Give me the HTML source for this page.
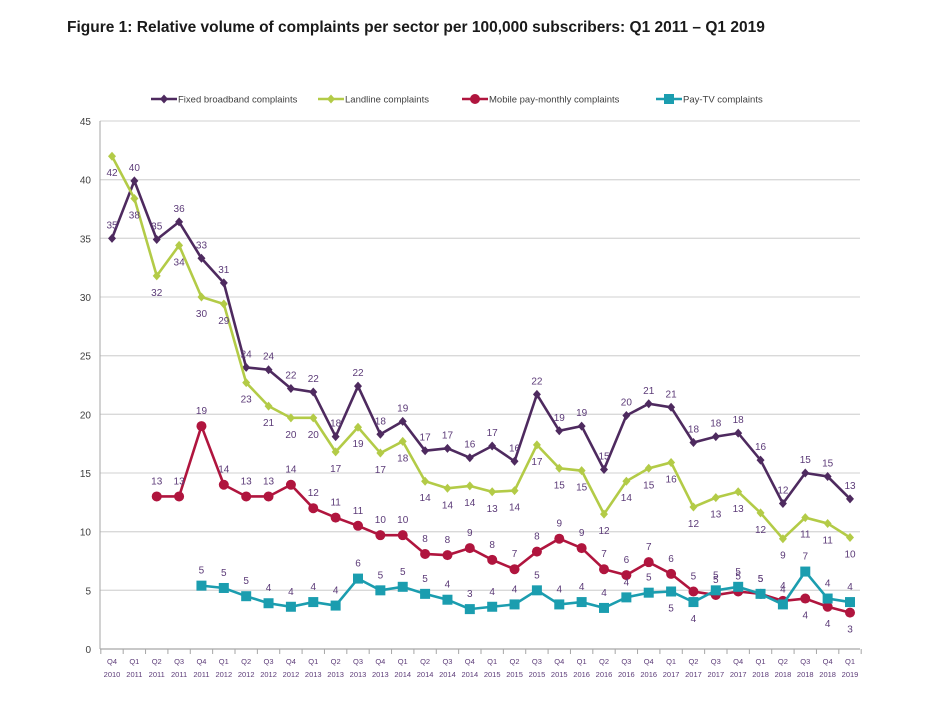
<!DOCTYPE html>
<html><head><meta charset="utf-8">
<style>
body{margin:0;background:#fff;width:934px;height:713px;overflow:hidden;font-family:"Liberation Sans",sans-serif;}
#title{position:absolute;left:67px;top:19px;font-size:15.5px;font-weight:bold;color:#1a1a1a;}
svg{position:absolute;left:0;top:0;}
</style></head>
<body>
<div id="title">Figure 1: Relative volume of complaints per sector per 100,000 subscribers: Q1 2011 – Q1 2019</div>
<svg id="chart" width="934" height="713"></svg>
<script>
const quarters=["Q4","Q1","Q2","Q3","Q4","Q1","Q2","Q3","Q4","Q1","Q2","Q3","Q4","Q1","Q2","Q3","Q4","Q1","Q2","Q3","Q4","Q1","Q2","Q3","Q4","Q1","Q2","Q3","Q4","Q1","Q2","Q3","Q4","Q1"];
const years=["2010","2011","2011","2011","2011","2012","2012","2012","2012","2013","2013","2013","2013","2014","2014","2014","2014","2015","2015","2015","2015","2016","2016","2016","2016","2017","2017","2017","2017","2018","2018","2018","2018","2019"];
const yTicks=[0,5,10,15,20,25,30,35,40,45];
const fixedBroadband=[35.0,39.9,34.9,36.4,33.3,31.2,24.0,23.8,22.2,21.9,18.1,22.4,18.3,19.4,16.9,17.1,16.3,17.3,16.0,21.7,18.6,19.0,15.3,19.9,20.9,20.6,17.6,18.1,18.4,16.1,12.4,15.0,14.7,12.8];
const landline=[42.0,38.4,31.8,34.4,30.0,29.4,22.7,20.7,19.7,19.7,16.8,18.9,16.7,17.7,14.3,13.7,13.9,13.4,13.5,17.4,15.4,15.2,11.5,14.3,15.4,15.9,12.1,12.9,13.4,11.6,9.4,11.2,10.7,9.5];
const mobile=[null,null,13.0,13.0,19.0,14.0,13.0,13.0,14.0,12.0,11.2,10.5,9.7,9.7,8.1,8.0,8.6,7.6,6.8,8.3,9.4,8.6,6.8,6.3,7.4,6.4,4.9,4.6,4.9,4.7,4.1,4.3,3.6,3.1];
const payTv=[null,null,null,null,5.4,5.2,4.5,3.9,3.6,4.0,3.7,6.0,5.0,5.3,4.7,4.2,3.4,3.6,3.8,5.0,3.8,4.0,3.5,4.4,4.8,4.9,4.0,5.0,5.3,4.7,3.8,6.6,4.3,4.0];
const mobileLabelsBelow=[31,32,33];
const payTvLabelsBelow=[25,26];

const svg=document.getElementById('chart');
const NS='http://www.w3.org/2000/svg';
const X0=112,X1=850,Y0=649,Y45=121;
const xs=i=>X0+i*(X1-X0)/(quarters.length-1);
const ys=v=>Y0-(v/45)*(Y0-Y45);
function mk(tag,attrs,parent){const e=document.createElementNS(NS,tag);for(const k in attrs)e.setAttribute(k,attrs[k]);(parent||svg).appendChild(e);return e;}
const lblColor='#5c3b78';
yTicks.forEach(t=>{
  const g=mk('line',{x1:100,x2:860,y1:ys(t),y2:ys(t),stroke:t===0?'#a6a6a6':'#d9d9d9','stroke-width':1.3});
  
  
  const tx=mk('text',{x:91,y:ys(t)+4,'text-anchor':'end','font-size':10,fill:'#404040'});
  tx.textContent=t;
  
  
});
mk('line',{x1:100,x2:100,y1:121,y2:649,stroke:'#a6a6a6','stroke-width':1});
const step=(X1-X0)/(quarters.length-1);
for(let i=0;i<=quarters.length;i++){mk('line',{x1:X0-step/2+i*step,x2:X0-step/2+i*step,y1:649,y2:654,stroke:'#a6a6a6'});}
quarters.forEach((q,i)=>{
  const t1=mk('text',{x:xs(i),y:664,'text-anchor':'middle','font-size':7.5,fill:lblColor});t1.textContent=q;
  
  
  const t2=mk('text',{x:xs(i),y:677,'text-anchor':'middle','font-size':7.5,fill:lblColor});t2.textContent=years[i];
  
  
});
function marker(shape,x,y,c,g){
  if(shape==='diamond')return mk('polygon',{points:`${x},${y-4.5} ${x+4},${y} ${x},${y+4.5} ${x-4},${y}`,fill:c},g);
  if(shape==='circle')return mk('circle',{cx:x,cy:y,r:5,fill:c},g);
  return mk('rect',{x:x-5,y:y-5,width:10,height:10,fill:c},g);
}
const series=[
 {name:'fixed-broadband',data:fixedBroadband,color:'#4e2a5f',shape:'diamond',dy:-10,below:[]},
 {name:'landline',data:landline,color:'#b3cb47',shape:'diamond',dy:20,below:[]},
 {name:'mobile',data:mobile,color:'#b0153e',shape:'circle',dy:-12,below:mobileLabelsBelow},
 {name:'pay-tv',data:payTv,color:'#1b9daf',shape:'square',dy:-12,below:payTvLabelsBelow}
];
series.forEach(s=>{
  const g=mk('g',{});
  
  
  let d='';
  s.data.forEach((v,i)=>{if(v==null)return;d+=(d?'L':'M')+xs(i)+','+ys(v);});
  mk('path',{d:d,fill:'none',stroke:s.color,'stroke-width':2.6},g);
  s.data.forEach((v,i)=>{if(v==null)return;
    const m=marker(s.shape,xs(i),ys(v),s.color,g);
    
    
    let dy=s.below.includes(i)?20:s.dy;
    let dx=0;
    if(i===0&&s.name==='landline'){dx=0;dy=20;}
    if(i===0&&s.name==='fixed-broadband'){dy=-10;}
    const t=mk('text',{x:xs(i)+dx,y:ys(v)+dy,'text-anchor':'middle','font-size':10,fill:lblColor},g);
    t.textContent=Math.round(v);
    
    
  });
});
const legend=[['Fixed broadband complaints',164],['Landline complaints',331],['Mobile pay-monthly complaints',475],['Pay-TV complaints',669]];
legend.forEach((l,k)=>{
  const s=series[k];
  const g=mk('g',{});
  
  
  mk('line',{x1:l[1]-13,x2:l[1]+13,y1:99,y2:99,stroke:s.color,'stroke-width':2.6},g);
  marker(s.shape,l[1],99,s.color,g);
  const t=mk('text',{x:l[1]+14,y:102.5,'font-size':9.5,fill:'#404040'},g);t.textContent=l[0];
});
</script>
</body></html>
